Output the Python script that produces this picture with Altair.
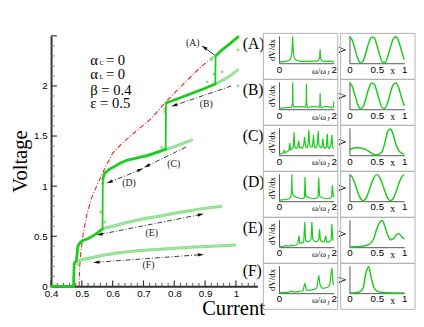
import math
import altair as alt
import pandas as pd

SERIF = "Liberation Serif"
SANS = "Liberation Sans"
GREEN = "#1ccc1c"
LIGHT = "#88de88"
RED = "#e0201b"

# ---------------- main chart data ----------------
up_I = [0.400, 0.473, 0.475, 0.482, 0.487, 0.495, 0.505, 0.520, 0.540, 0.555, 0.567, 0.568, 0.574, 0.590, 0.605,
        0.625, 0.648, 0.670, 0.690, 0.710, 0.732, 0.750, 0.772, 0.773, 0.800, 0.830, 0.860, 0.890, 0.933, 0.934,
        0.955, 0.980, 1.007]
up_V = [0.000, 0.000, 0.230, 0.250, 0.400, 0.440, 0.460, 0.475, 0.510, 0.545, 0.570, 1.070, 1.130, 1.170, 1.195,
        1.230, 1.260, 1.275, 1.290, 1.305, 1.325, 1.345, 1.370, 1.830, 1.860, 1.895, 1.930, 1.965, 2.020, 2.300,
        2.360, 2.420, 2.490]
# index ranges of the bold curve: sloped pieces are thick, jumps are thinner
up_pieces = [(0, 10, 2.8), (10, 11, 1.8), (11, 22, 2.8), (22, 23, 1.8), (23, 28, 2.8), (28, 29, 1.8),
             (29, 32, 2.8)]

lightF_I = [0.486, 0.500, 0.530, 0.568, 0.620, 0.680, 0.740, 0.780, 0.850, 0.920, 1.000]
lightF_V = [0.250, 0.265, 0.285, 0.310, 0.335, 0.355, 0.368, 0.375, 0.390, 0.400, 0.412]
lightE_I = [0.568, 0.600, 0.650, 0.700, 0.750, 0.800, 0.850, 0.900, 0.955]
lightE_V = [0.577, 0.600, 0.640, 0.675, 0.700, 0.730, 0.755, 0.780, 0.800]
lightC_I = [0.700, 0.750, 0.800, 0.860]
lightC_V = [1.290, 1.340, 1.395, 1.465]
lightB_I = [0.933, 0.960, 0.985, 1.008]
lightB_V = [2.020, 2.060, 2.110, 2.165]

dots_I = [0.920, 0.928, 0.955, 1.007, 1.007, 0.907, 0.769, 0.769, 0.759, 0.561, 0.574, 0.568, 0.486, 0.923]
dots_V = [2.260, 2.120, 2.140, 2.360, 2.000, 2.040, 1.770, 1.740, 1.390, 0.740, 0.640, 1.030, 0.220, 2.280]

red_I = [0.491, 0.493, 0.497, 0.502, 0.515, 0.530, 0.552, 0.575, 0.600, 0.635, 0.673, 0.727, 0.775, 0.810, 0.843,
         0.886, 0.935]
red_V = [0.000, 0.200, 0.350, 0.480, 0.700, 0.870, 1.030, 1.180, 1.330, 1.440, 1.540, 1.680, 1.850, 1.960, 2.060,
         2.190, 2.310]

arrow_id = ["A", "B", "C", "D", "E", "F"]
arrow_I0 = [0.930, 0.985, 0.838, 0.690, 0.558, 0.547]
arrow_V0 = [2.310, 2.000, 1.390, 1.165, 0.518, 0.240]
arrow_I1 = [0.897, 0.800, 0.711, 0.590, 0.886, 0.886]
arrow_V1 = [2.385, 1.805, 1.200, 1.040, 0.717, 0.316]
arrow_head_start = [False, False, False, True, True, True]
arrow_lab_I = [0.860, 0.904, 0.798, 0.653, 0.727, 0.716]
arrow_lab_V = [2.430, 1.820, 1.220, 1.030, 0.535, 0.210]

side_lab_V = [2.414, 1.955, 1.496, 1.036, 0.577, 0.156]

# ---------------- panel data ----------------
spec_A = [(0, .04), (.05, .06), (.1, .05), (.15, .07), (.2, .06), (.25, .08), (.3, .09), (.35, .1), (.4, .14),
          (.44, .22), (.47, .4), (.49, .75), (.5, 1.0), (.51, .7), (.53, .35), (.56, .2), (.6, .14), (.65, .11),
          (.7, .09), (.75, .08), (.8, .07), (.85, .08), (.9, .06), (.95, .07), (1.0, .08), (1.05, .06), (1.1, .07),
          (1.15, .08), (1.2, .06), (1.25, .09), (1.3, .07), (1.35, .08), (1.4, .09), (1.45, .12), (1.48, .2),
          (1.5, .52), (1.52, .18), (1.55, .1), (1.6, .08), (1.65, .07), (1.7, .09), (1.75, .06), (1.8, .08),
          (1.85, .07), (1.9, .09), (1.95, .06), (2.0, .05)]
spec_B = [(0, .03), (.1, .04), (.2, .05), (.3, .06), (.4, .07), (.46, .08), (.49, .2), (.5, 1.0), (.51, .2),
          (.54, .08), (.6, .09), (.7, .1), (.8, .1), (.9, .09), (.96, .07), (.99, .2), (1.0, .95), (1.01, .2),
          (1.04, .07), (1.1, .08), (1.2, .1), (1.3, .1), (1.4, .09), (1.46, .07), (1.49, .15), (1.5, .6),
          (1.51, .15), (1.54, .07), (1.6, .08), (1.7, .1), (1.8, .09), (1.9, .08), (1.96, .07), (1.99, .12),
          (2.0, .3)]
spec_C = [(0, .03), (.05, .05), (.1, .06), (.15, .08), (.19, .18), (.22, .08), (.27, .12), (.32, .15), (.36, .18),
          (.39, .45), (.42, .2), (.47, .25), (.52, .3), (.55, .85), (.58, .3), (.63, .25), (.68, .3), (.72, .55),
          (.75, .28), (.8, .3), (.85, .25), (.9, .35), (.93, .68), (.98, .3), (1.03, .28), (1.06, .4), (1.09, .95),
          (1.12, .35), (1.17, .3), (1.22, .32), (1.26, .75), (1.29, .3), (1.34, .28), (1.39, .35), (1.43, .9),
          (1.46, .35), (1.51, .3), (1.56, .28), (1.6, .62), (1.63, .3), (1.68, .25), (1.73, .3), (1.76, .8),
          (1.79, .3), (1.84, .25), (1.89, .35), (1.93, .75), (1.96, .3), (2.0, .25)]
spec_D = [(0, .03), (.1, .05), (.2, .06), (.3, .08), (.38, .1), (.43, .15), (.46, .4), (.47, 1.0), (.48, .4),
          (.52, .22), (.6, .15), (.7, .13), (.8, .1), (.88, .1), (.93, .15), (.95, .9), (.97, .2), (1.05, .14),
          (1.15, .12), (1.25, .1), (1.35, .1), (1.42, .14), (1.45, .88), (1.48, .2), (1.55, .13), (1.65, .11),
          (1.75, .1), (1.85, .1), (1.92, .15), (1.95, .6), (1.98, .2), (2.0, .15)]
spec_E = [(0, .02), (.1, .03), (.2, .04), (.25, .07), (.3, .04), (.4, .05), (.45, .08), (.5, .05), (.6, .07),
          (.68, .12), (.73, .42), (.76, .15), (.82, .15), (.9, .2), (.94, .94), (.97, .25), (1.03, .2), (1.1, .22),
          (1.17, .3), (1.2, .94), (1.23, .3), (1.3, .22), (1.38, .2), (1.45, .3), (1.48, .68), (1.51, .25),
          (1.58, .2), (1.65, .22), (1.71, .42), (1.74, .2), (1.82, .2), (1.9, .25), (1.93, .87), (1.96, .3),
          (2.0, .25)]
spec_F = [(0, .02), (.1, .02), (.2, .03), (.3, .03), (.4, .05), (.45, .08), (.5, .05), (.6, .05), (.7, .06),
          (.8, .07), (.88, .1), (.94, .37), (1.0, .12), (1.1, .1), (1.2, .12), (1.3, .14), (1.38, .2), (1.45, .66),
          (1.5, .3), (1.55, .2), (1.62, .18), (1.7, .2), (1.78, .22), (1.85, .3), (1.93, .94), (1.97, .4),
          (2.0, .3)]

prof_x = [0.00, 0.05, 0.10, 0.15, 0.20, 0.25, 0.30, 0.35, 0.40, 0.45, 0.50, 0.55, 0.60, 0.65, 0.70, 0.75, 0.80,
          0.85, 0.90, 0.95, 1.00]
prof_A = [.99, .86, .53, .19, .01, .09, .39, .75, .97, .95, .68, .32, .05, .03, .25, .61, .91, .99, .81, .46, .13]
prof_B = [.99, .85, .52, .18, .02, .10, .40, .76, .97, .94, .66, .30, .05, .04, .27, .63, .92, .98, .79, .44, .12]
prof_C = [.20, .25, .28, .28, .27, .25, .21, .15, .08, .03, .02, .05, .15, .50, .90, .98, .75, .40, .18, .08, .05]
prof_D = [.98, .90, .65, .35, .10, .02, .10, .35, .65, .90, .99, .90, .65, .35, .10, .02, .10, .35, .65, .90, .98]
prof_E = [.01, .01, .02, .02, .03, .04, .06, .10, .18, .35, .70, .92, .99, .75, .45, .28, .30, .45, .50, .40, .30]
prof_F = [.01, .01, .02, .03, .06, .20, .75, .98, .55, .20, .08, .04, .03, .02, .02, .01, .01, .01, .01, .01, .01]

spectra = [spec_A, spec_B, spec_C, spec_D, spec_E, spec_F]
profiles = [prof_A, prof_B, prof_C, prof_D, prof_E, prof_F]

# ---------------- main chart ----------------
W, H = 211, 256
XD = [0.4, 1.07]
YD = [0.0, 2.5]
kx = W / (XD[1] - XD[0])
ky = H / (YD[1] - YD[0])

xs = alt.Scale(domain=XD, nice=False, zero=False)
ys = alt.Scale(domain=YD, nice=False, zero=False)
xax = alt.Axis(values=[0.4, 0.5, 0.6, 0.7, 0.8, 0.9, 1.0], format="~g", ticks=False, tickSize=0, grid=False,
               domainColor="#333333", domainWidth=2, labelFont=SANS, labelFontSize=10, labelColor="black",
               labelPadding=2, labelFlush=False, labelOverlap=False,
               title="Current", titleFont=SERIF, titleFontSize=21, titleFontWeight="normal", titleColor="black",
               titleX=186, titleY=28.5, titleAlign="center", titleBaseline="alphabetic")
yax = alt.Axis(values=[0, 0.5, 1, 1.5, 2], format="~g", ticks=False, tickSize=0, grid=False,
               domainColor="#333333", domainWidth=2, labelFont=SANS, labelFontSize=10, labelColor="black",
               labelPadding=4, labelFlush=False, labelOverlap=False,
               title="Voltage", titleFont=SERIF, titleFontSize=21, titleFontWeight="normal", titleColor="black",
               titlePadding=3)


def X(f):
    return alt.X(f, type="quantitative", scale=xs, axis=xax)


def Y(f):
    return alt.Y(f, type="quantitative", scale=ys, axis=yax)


xmaj = [0.4, 0.5, 0.6, 0.7, 0.8, 0.9, 1.0]
xmin = [0.42, 0.44, 0.46, 0.48, 0.52, 0.54, 0.56, 0.58, 0.62, 0.64, 0.66, 0.68, 0.72, 0.74, 0.76, 0.78, 0.82,
        0.84, 0.86, 0.88, 0.92, 0.94, 0.96, 0.98, 1.02, 1.04, 1.06]
ymaj = [0.5, 1.0, 1.5, 2.0, 2.5]
ymin = [0.1, 0.2, 0.3, 0.4, 0.6, 0.7, 0.8, 0.9, 1.1, 1.2, 1.3, 1.4, 1.6, 1.7, 1.8, 1.9, 2.1, 2.2, 2.3, 2.4]

layers = []
layers.append(alt.Chart(pd.DataFrame({"I": xmaj})).mark_rule(color="#333333", strokeWidth=1.2).encode(
    x=X("I"), y=alt.value(H), y2=alt.value(H - 6)))
layers.append(alt.Chart(pd.DataFrame({"I": xmin})).mark_rule(color="#555555", strokeWidth=1).encode(
    x=X("I"), y=alt.value(H), y2=alt.value(H - 3.5)))
layers.append(alt.Chart(pd.DataFrame({"V": ymaj})).mark_rule(color="#333333", strokeWidth=1.2).encode(
    y=Y("V"), x=alt.value(0), x2=alt.value(6)))
layers.append(alt.Chart(pd.DataFrame({"V": ymin})).mark_rule(color="#777777", strokeWidth=1).encode(
    y=Y("V"), x=alt.value(0), x2=alt.value(3.5)))

# red dash-dot curve
red_df = pd.DataFrame({"I": red_I, "V": red_V, "o": range(len(red_I))})
layers.append(alt.Chart(red_df).mark_line(color=RED, strokeWidth=1.1, strokeDash=[5, 2, 1, 2]).encode(
    x=X("I"), y=Y("V"), order="o:Q"))

# light (down-sweep) branches
rows = []
for name, Is, Vs in [("F", lightF_I, lightF_V), ("E", lightE_I, lightE_V), ("C", lightC_I, lightC_V),
                     ("B", lightB_I, lightB_V)]:
    for k, (a, b) in enumerate(zip(Is, Vs)):
        rows.append({"b": name, "I": a, "V": b, "o": k})
light_df = pd.DataFrame(rows)
layers.append(alt.Chart(light_df).mark_line(color=LIGHT, strokeWidth=3).encode(
    x=X("I"), y=Y("V"), detail="b:N", order="o:Q"))
layers.append(alt.Chart(light_df).mark_line(color="#c9f2c9", strokeWidth=1, strokeDash=[1.5, 1.5]).encode(
    x=X("I"), y=Y("V"), detail="b:N", order="o:Q"))

# scattered points
layers.append(alt.Chart(pd.DataFrame({"I": dots_I, "V": dots_V})).mark_point(
    filled=True, color=LIGHT, size=8, opacity=1).encode(x=X("I"), y=Y("V")))

# bold up-sweep line (split into pieces so the jumps are thinner)
prow = []
for pid, (a, b, sw) in enumerate(up_pieces):
    for k in range(a, b + 1):
        prow.append({"p": pid, "I": up_I[k], "V": up_V[k], "o": k, "sw": sw})
up_df = pd.DataFrame(prow)
layers.append(alt.Chart(up_df).mark_line(color=GREEN, strokeCap="round").encode(
    x=X("I"), y=Y("V"), detail="p:N", order="o:Q", strokeWidth=alt.StrokeWidth("sw:Q", scale=None)))

# arrows
arows = []
heads = []
for i, aid in enumerate(arrow_id):
    arows.append({"a": aid, "I": arrow_I0[i], "V": arrow_V0[i], "o": 0})
    arows.append({"a": aid, "I": arrow_I1[i], "V": arrow_V1[i], "o": 1})
    dx = (arrow_I1[i] - arrow_I0[i]) * kx
    dy = (arrow_V1[i] - arrow_V0[i]) * ky
    ang = math.degrees(math.atan2(dx, dy)) % 360
    heads.append({"I": arrow_I1[i], "V": arrow_V1[i], "ang": ang})
    if arrow_head_start[i]:
        heads.append({"I": arrow_I0[i], "V": arrow_V0[i], "ang": (ang + 180) % 360})
arr_df = pd.DataFrame(arows)
layers.append(alt.Chart(arr_df).transform_filter(alt.datum.a != "A").mark_line(
    color="#222222", strokeWidth=0.9, strokeDash=[5, 2, 1, 2]).encode(
    x=X("I"), y=Y("V"), detail="a:N", order="o:Q"))
layers.append(alt.Chart(arr_df).transform_filter(alt.datum.a == "A").mark_line(
    color="#222222", strokeWidth=0.9).encode(x=X("I"), y=Y("V"), detail="a:N", order="o:Q"))
layers.append(alt.Chart(pd.DataFrame(heads)).mark_point(
    shape="M0,-1L0.5,0.9L-0.5,0.9Z", filled=True, color="#111111", size=45, opacity=1).encode(
    x=X("I"), y=Y("V"), angle=alt.Angle("ang:Q", scale=None)))

# small labels next to arrows
layers.append(alt.Chart(pd.DataFrame({"I": arrow_lab_I, "V": arrow_lab_V,
                                      "t": ["(" + a + ")" for a in arrow_id]})).mark_text(
    font=SERIF, fontSize=10, color="#222222").encode(x=X("I"), y=Y("V"), text="t:N"))

# right side labels
layers.append(alt.Chart(pd.DataFrame({"I": [1.022] * 6, "V": side_lab_V,
                                      "t": ["(" + a + ")" for a in arrow_id]})).mark_text(
    font=SERIF, fontSize=16, align="left", baseline="middle", color="black").encode(
    x=X("I"), y=Y("V"), text="t:N"))

# parameter block
par_main = pd.DataFrame({"I": [0.527, 0.527, 0.527, 0.527],
                         "V": [2.255, 2.114, 1.962, 1.831],
                         "t": ["α", "α", "β = 0.4", "ε = 0.5"]})
par_sub = pd.DataFrame({"I": [0.557, 0.557], "V": [2.255, 2.114], "t": ["C", "L"]})
par_eq = pd.DataFrame({"I": [0.578, 0.578], "V": [2.255, 2.114], "t": ["= 0", "= 0"]})
layers.append(alt.Chart(par_main).mark_text(font=SERIF, fontSize=15, align="left", baseline="middle",
                                            color="black").encode(x=X("I"), y=Y("V"), text="t:N"))
layers.append(alt.Chart(par_sub).mark_text(font=SERIF, fontSize=7, align="left", baseline="middle", dy=3,
                                           color="black").encode(x=X("I"), y=Y("V"), text="t:N"))
layers.append(alt.Chart(par_eq).mark_text(font=SERIF, fontSize=15, align="left", baseline="middle",
                                          color="black").encode(x=X("I"), y=Y("V"), text="t:N"))
# invisible spacer above the plot (aligns the plot top with the panel grid)
layers.append(alt.Chart(pd.DataFrame({"t": ["."]})).mark_text(fontSize=10, opacity=0).encode(
    x=alt.value(0), y=alt.value(-4), text="t:N"))

main = alt.layer(*layers).properties(width=W, height=H)

# ---------------- small panels ----------------
PW, PH = 56, 28
TOPM, BOTM = 2.5, 16.5
BORDER = "#b0b0b0"


def border(left, right):
    return alt.Chart(pd.DataFrame({"k": [0]})).mark_rect(fillOpacity=0, stroke=BORDER, strokeWidth=1).encode(
        x=alt.value(-left), x2=alt.value(PW + right), y=alt.value(-TOPM), y2=alt.value(PH + BOTM))


def small_axis_x(vals, fmt):
    return alt.Axis(values=vals, format=fmt, ticks=False, tickSize=0, grid=False, domainColor="#555555",
                    domainWidth=1, labelFont=SANS, labelFontSize=10, labelColor="black", labelPadding=1,
                    labelFlush=False, labelOverlap=False, title=None)


def small_axis_y(title, size, pad):
    return alt.Axis(labels=False, ticks=False, tickSize=0, grid=False, domainColor="#555555", domainWidth=1,
                    title=title, titleFont=SERIF, titleFontSize=size, titleFontWeight="normal",
                    titleColor="black", titlePadding=pad)


def spectrum_panel(pairs):
    sx = alt.Scale(domain=[0, 2], nice=False)
    sy = alt.Scale(domain=[0, 1.02], nice=False)
    xe = lambda f: alt.X(f, type="quantitative", scale=sx, axis=small_axis_x([0, 1, 2], "d"))
    ye = lambda f: alt.Y(f, type="quantitative", scale=sy, axis=small_axis_y("dV/dx", 9, 3))
    df = pd.DataFrame(pairs, columns=["w", "a"])
    line = alt.Chart(df).mark_line(color=GREEN, strokeWidth=1.2).encode(x=xe("w"), y=ye("a"))
    lab = alt.Chart(pd.DataFrame({"w": [1.2], "t": ["ω/ω"]})).mark_text(
        font=SERIF, fontSize=9, align="left", baseline="middle", color="black").encode(
        x=xe("w"), y=alt.value(PH + 7.5), text="t:N")
    sub = alt.Chart(pd.DataFrame({"w": [1.76], "t": ["J"]})).mark_text(
        font=SERIF, fontSize=6, align="left", baseline="middle", color="black").encode(
        x=xe("w"), y=alt.value(PH + 10.5), text="t:N")
    return alt.layer(border(16, 4), line, lab, sub).properties(width=PW, height=PH)


def profile_panel(vals):
    sx = alt.Scale(domain=[0, 1], nice=False)
    sy = alt.Scale(domain=[0, 1.02], nice=False)
    xe = lambda f: alt.X(f, type="quantitative", scale=sx, axis=small_axis_x([0, 0.5, 1], "~g"))
    ye = lambda f: alt.Y(f, type="quantitative", scale=sy, axis=small_axis_y("V", 10, 2))
    df = pd.DataFrame({"x": prof_x, "v": vals})
    line = alt.Chart(df).mark_line(color=GREEN, strokeWidth=1.5, interpolate="monotone").encode(
        x=xe("x"), y=ye("v"))
    lab = alt.Chart(pd.DataFrame({"x": [0.79], "t": ["x"]})).mark_text(
        font=SERIF, fontSize=10, baseline="middle", color="black").encode(
        x=xe("x"), y=alt.value(PH + 8), text="t:N")
    return alt.layer(border(9, 11), line, lab).properties(width=PW, height=PH)


grid_rows = []
for s, p in zip(spectra, profiles):
    grid_rows.append(alt.hconcat(spectrum_panel(s), profile_panel(p), spacing=-1))
grid = alt.vconcat(*grid_rows, spacing=-1)

chart = alt.hconcat(main, grid, spacing=-3).properties(
    padding={"left": 2, "top": 16, "right": 0, "bottom": 0}
).configure_view(stroke=None)

chart.save("out.html", embed_options={"renderer": "svg", "actions": False})
